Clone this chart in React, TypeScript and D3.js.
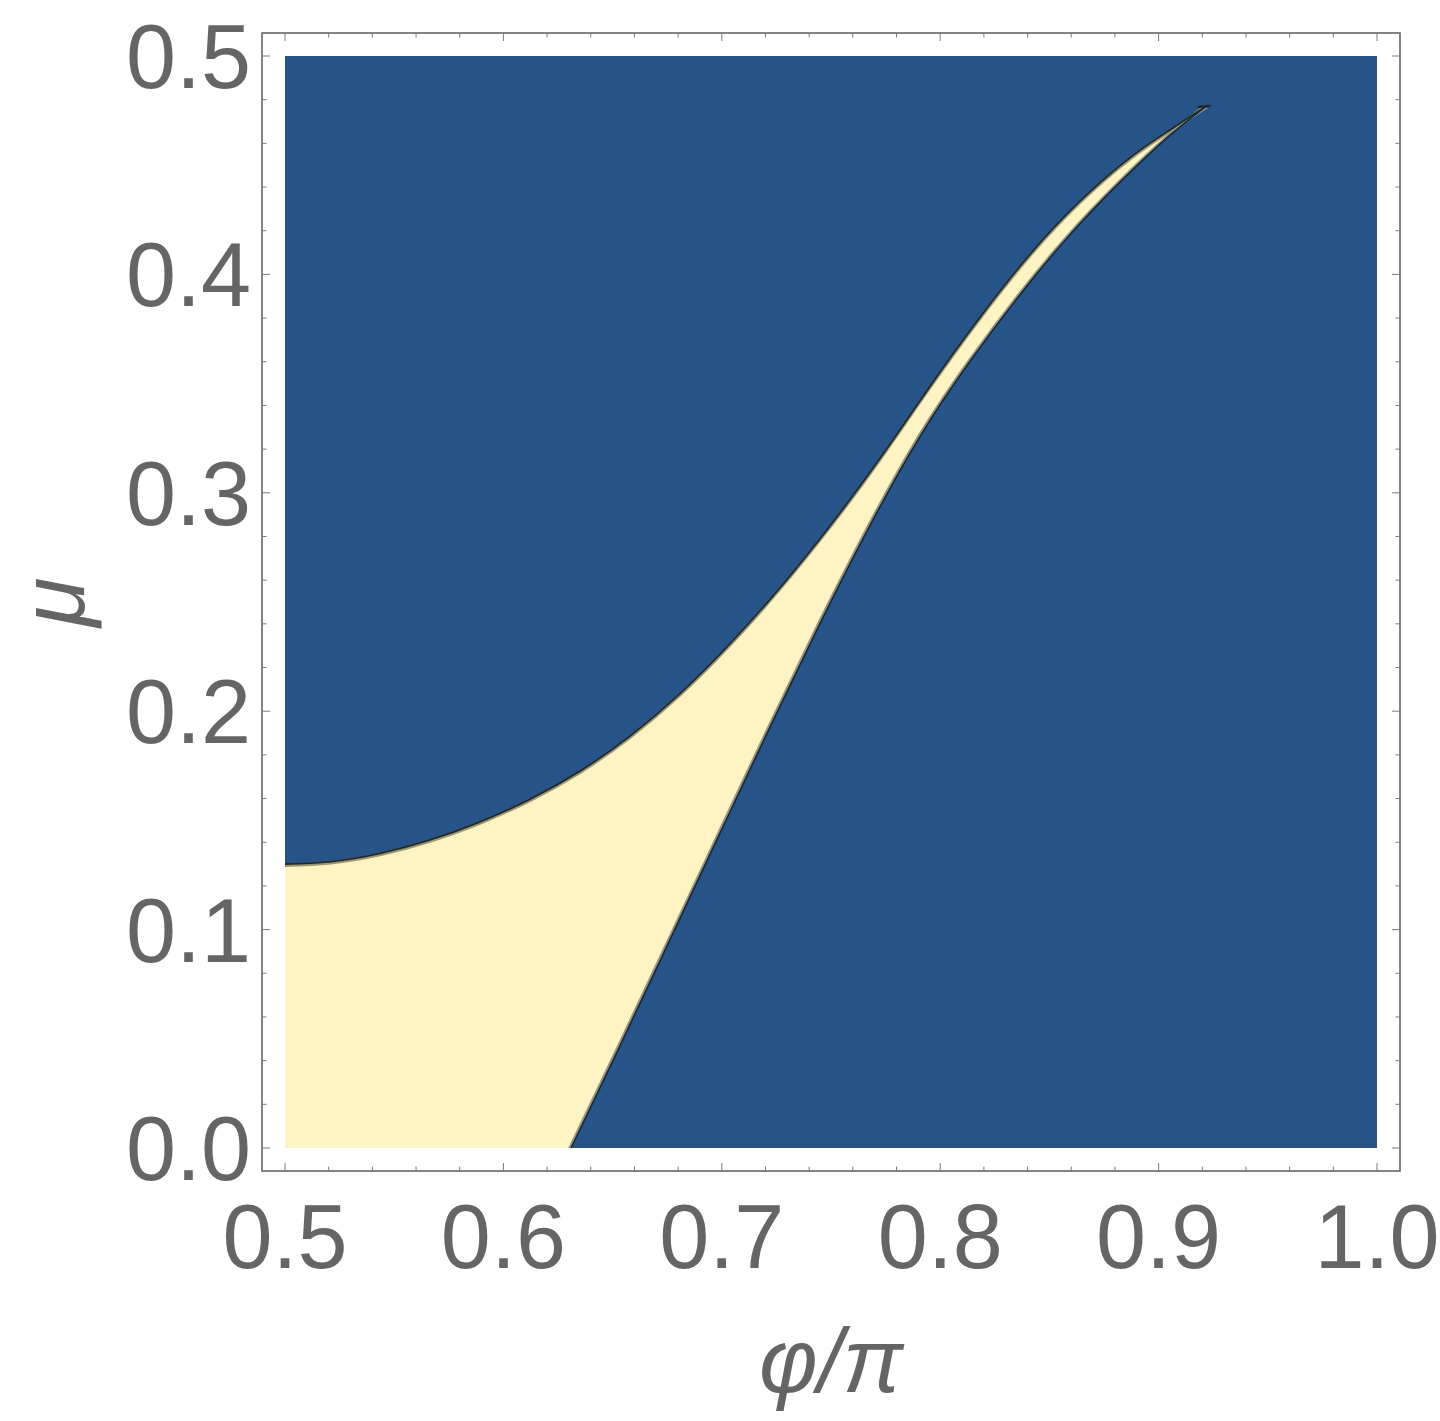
import * as d3 from 'd3';
import { useEffect, useRef } from 'react';

// upper boundary of the yellow region (phi/pi, mu)
const upperPhi = [0.5, 0.521, 0.544, 0.566, 0.589, 0.612, 0.635, 0.658, 0.681, 0.704, 0.727, 0.75, 0.772, 0.795, 0.818, 0.841, 0.864, 0.887, 0.905, 0.922];
const upperMu = [0.13, 0.1311, 0.135, 0.1409, 0.1492, 0.1596, 0.1725, 0.1886, 0.2081, 0.2311, 0.2569, 0.2854, 0.3151, 0.3482, 0.38, 0.409, 0.4335, 0.4535, 0.466, 0.4772];

// lower boundary, from mu = 0 up to the tip
const lowerPhi = [0.631, 0.653, 0.676, 0.699, 0.722, 0.745, 0.768, 0.791, 0.814, 0.837, 0.859, 0.882, 0.905, 0.922];
const lowerMu = [0.0, 0.046, 0.0948, 0.1438, 0.1926, 0.2402, 0.2853, 0.3262, 0.3607, 0.3913, 0.4177, 0.4419, 0.4635, 0.4772];

const xTicks = [0.5, 0.6, 0.7, 0.8, 0.9, 1.0];
const yTicks = [0.0, 0.1, 0.2, 0.3, 0.4, 0.5];

const BLUE = '#265489';
const YELLOW = '#FEF3C2';
const GRAY = '#656565';
const FONT = '"Liberation Sans", Arial, Helvetica, sans-serif';

export default function App() {
  const ref = useRef<HTMLDivElement>(null);

  useEffect(() => {
    const width = 1440;
    const height = 1421;
    const left = 285, right = 1377, top = 56, bottom = 1148;
    const pad = 23;

    d3.select(ref.current).selectAll('*').remove();

    const svg = d3
      .select(ref.current)
      .append('svg')
      .attr('width', width)
      .attr('height', height)
      .style('position', 'absolute')
      .style('left', 0)
      .style('top', 0)
      .style('background', '#fff');

    const x = d3.scaleLinear().domain([0.5, 1.0]).range([left, right]);
    const y = d3.scaleLinear().domain([0, 0.5]).range([bottom, top]);

    /* ---------- BACKGROUND REGION ---------- */
    svg
      .append('rect')
      .attr('x', x(0.5))
      .attr('y', y(0.5))
      .attr('width', x(1) - x(0.5))
      .attr('height', y(0) - y(0.5))
      .attr('fill', BLUE);

    /* ---------- YELLOW REGION ---------- */
    const upper = upperPhi.map((p, i) => [p, upperMu[i]] as [number, number]);
    const lower = lowerPhi.map((p, i) => [p, lowerMu[i]] as [number, number]);

    const line = d3
      .line<[number, number]>()
      .x(d => x(d[0]))
      .y(d => y(d[1]))
      .curve(d3.curveNatural);

    const upperPath = line(upper) as string;
    const lowerPath = line(lower) as string;
    const lowerRevPath = line([...lower].reverse()) as string;

    const regionPath =
      `M${x(0.5)},${y(0)}` +
      upperPath.replace(/^M/, 'L') +
      lowerRevPath.replace(/^M/, 'L') +
      'Z';

    svg.append('path').attr('d', regionPath).attr('fill', YELLOW);

    /* ---------- BOUNDARY LINES ---------- */
    svg
      .append('path')
      .attr('d', upperPath)
      .attr('fill', 'none')
      .attr('stroke', '#9a9676')
      .attr('stroke-width', 2.5)
      .attr('transform', 'translate(0,1.6)');
    svg
      .append('path')
      .attr('d', lowerPath)
      .attr('fill', 'none')
      .attr('stroke', '#9a9676')
      .attr('stroke-width', 2.5)
      .attr('transform', 'translate(-1.6,0)');
    [upperPath, lowerPath].forEach(p => {
      svg
        .append('path')
        .attr('d', p)
        .attr('fill', 'none')
        .attr('stroke', '#1a2633')
        .attr('stroke-width', 1.6);
    });

    // small dark hook at the tip
    const tip = upper[upper.length - 1];
    svg
      .append('path')
      .attr('d', `M${x(tip[0]) - 8},${y(tip[1]) + 1}L${x(tip[0]) + 3},${y(tip[1])}`)
      .attr('stroke', '#1a2633')
      .attr('stroke-width', 2.2)
      .attr('stroke-linecap', 'round');

    /* ---------- FRAME ---------- */
    const fx0 = left - pad, fx1 = right + pad, fy0 = top - pad, fy1 = bottom + pad;
    svg
      .append('rect')
      .attr('x', fx0)
      .attr('y', fy0)
      .attr('width', fx1 - fx0)
      .attr('height', fy1 - fy0)
      .attr('fill', 'none')
      .attr('stroke', GRAY)
      .attr('stroke-width', 1.6);

    /* ---------- TICKS ---------- */
    const ticks = svg.append('g').attr('stroke', '#7a7a7a').attr('stroke-width', 1);
    const isMajor = (v: number) => Math.abs(v * 10 - Math.round(v * 10)) < 1e-6;
    x.ticks(25).forEach(v => {
      const len = isMajor(v) ? 8 : 4.5;
      ticks.append('line').attr('x1', x(v)).attr('x2', x(v)).attr('y1', fy1).attr('y2', fy1 - len);
      ticks.append('line').attr('x1', x(v)).attr('x2', x(v)).attr('y1', fy0).attr('y2', fy0 + len);
    });
    y.ticks(25).forEach(v => {
      const len = isMajor(v) ? 8 : 4.5;
      ticks.append('line').attr('y1', y(v)).attr('y2', y(v)).attr('x1', fx0).attr('x2', fx0 + len);
      ticks.append('line').attr('y1', y(v)).attr('y2', y(v)).attr('x1', fx1).attr('x2', fx1 - len);
    });

    /* ---------- TICK LABELS ---------- */
    const fmt = d3.format('.1f');
    svg
      .selectAll('.xlab')
      .data(xTicks)
      .enter()
      .append('text')
      .attr('x', d => x(d))
      .attr('y', 1268)
      .attr('text-anchor', 'middle')
      .attr('fill', GRAY)
      .style('font-family', FONT)
      .style('font-size', '90px')
      .text(d => fmt(d));

    svg
      .selectAll('.ylab')
      .data(yTicks)
      .enter()
      .append('text')
      .attr('x', 251)
      .attr('y', d => y(d) + 32)
      .attr('text-anchor', 'end')
      .attr('fill', GRAY)
      .style('font-family', FONT)
      .style('font-size', '90px')
      .text(d => fmt(d));

    /* ---------- AXIS LABELS ---------- */
    svg
      .append('text')
      .attr('x', (left + right) / 2)
      .attr('y', 1392)
      .attr('text-anchor', 'middle')
      .attr('fill', GRAY)
      .style('font-family', FONT)
      .style('font-size', '90px')
      .style('font-style', 'italic')
      .text('φ/π');

    svg
      .append('text')
      .attr('transform', `translate(84,${(top + bottom) / 2}) rotate(-90)`)
      .attr('text-anchor', 'middle')
      .attr('fill', GRAY)
      .style('font-family', FONT)
      .style('font-size', '90px')
      .style('font-style', 'italic')
      .text('μ');
  }, []);

  return (
    <div>
      <div ref={ref} />
    </div>
  );
}
